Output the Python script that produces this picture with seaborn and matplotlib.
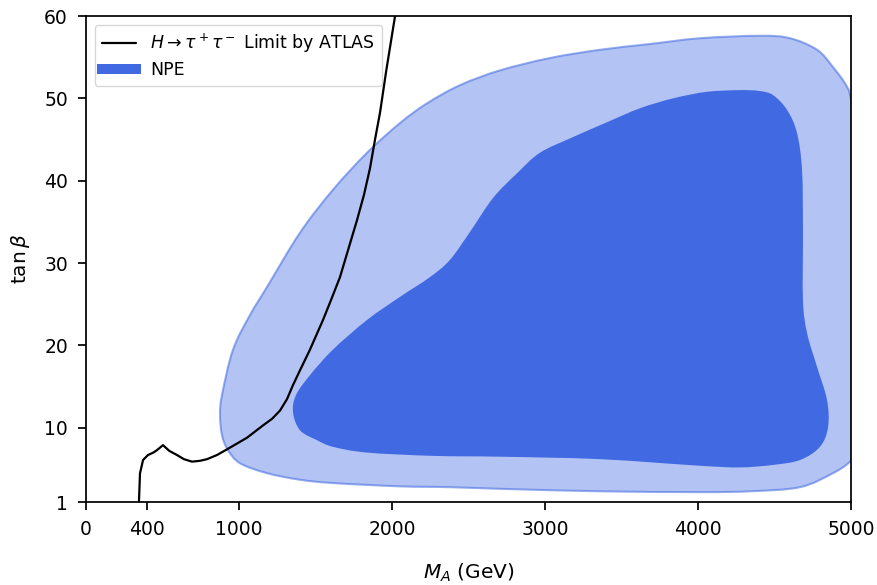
import numpy as np
import pandas as pd
import matplotlib
matplotlib.use("Agg")
import matplotlib.pyplot as plt
from matplotlib.lines import Line2D
from matplotlib.path import Path
from matplotlib.patches import PathPatch
import seaborn as sns

# ATLAS H -> tau tau exclusion limit in the (M_A, tan beta) plane
atlas_ma = [346, 350, 353, 373, 405, 440, 464, 503, 545, 595, 640, 693, 745, 791,
            856, 941, 1052, 1157, 1216, 1268, 1314, 1353, 1399, 1464, 1549, 1601,
            1660, 1771, 1817, 1856, 1889, 1922, 1961, 2000, 2026]
atlas_tb = [1.0, 3.0, 4.5, 6.1, 6.7, 7.0, 7.3, 7.9, 7.2, 6.7, 6.2, 5.9, 6.0, 6.2,
            6.7, 7.6, 8.8, 10.3, 11.1, 12.1, 13.5, 15.2, 17.0, 19.5, 23.1, 25.5,
            28.3, 35.2, 38.3, 41.5, 45.0, 48.3, 53.2, 57.7, 60.7]

# NPE posterior region, outer (95%) contour
outer_ma = [876, 889, 961, 1072, 1183, 1399, 1614, 1837, 2052, 2229, 2444, 2706,
            3033, 3360, 3686, 4013, 4405, 4601, 4778, 4882, 4974, 5007, 5124, 5124,
            5026, 4993, 4882, 4667, 4340, 4013, 3360, 2706, 2379, 2052, 1614, 1399,
            1183, 1007, 928, 889]
outer_tb = [11.6, 14.0, 19.5, 23.7, 27.1, 33.7, 38.9, 43.4, 47.0, 49.4, 51.6, 53.4,
            54.9, 55.9, 56.6, 57.3, 57.6, 57.3, 55.9, 53.8, 51.4, 49.2, 37.7, 19.5,
            7.3, 5.9, 4.5, 2.8, 2.3, 2.2, 2.3, 2.6, 2.8, 2.9, 3.3, 3.7,
            4.5, 5.7, 7.3, 9.1]

# NPE posterior region, inner (68%) contour
inner_ma = [1353, 1373, 1464, 1614, 1837, 2052, 2248, 2379, 2510, 2660, 2817, 2967,
            3183, 3405, 3621, 3837, 4059, 4275, 4400, 4490, 4582, 4647, 4680, 4686,
            4686, 4713, 4778, 4843, 4850, 4797, 4667, 4490, 4275, 4013, 3360, 2706,
            2268, 1837, 1614, 1510, 1399]
inner_tb = [11.9, 14.0, 16.4, 19.5, 23.1, 25.9, 28.3, 30.4, 33.8, 37.9, 40.9, 43.4,
            45.3, 47.1, 48.8, 50.0, 50.8, 51.0, 50.9, 50.4, 48.6, 45.8, 41.3, 34.0,
            25.5, 21.5, 17.4, 13.4, 10.1, 7.7, 6.1, 5.5, 5.2, 5.4, 6.2, 6.5,
            6.6, 7.0, 7.7, 8.5, 9.7]

x_ticks = [0, 400, 1000, 2000, 3000, 4000, 5000]
y_ticks = [1, 10, 20, 30, 40, 50, 60]


def smooth_closed_path(xs, ys):
    """Closed outline through the given vertices, drawn with cubic Bezier
    segments (Catmull-Rom tangents) so the contour edge is smooth."""
    p = np.column_stack([xs, ys]).astype(float)
    n = len(p)
    verts = [p[0]]
    codes = [Path.MOVETO]
    for i in range(n):
        p0, p1, p2, p3 = p[i - 1], p[i], p[(i + 1) % n], p[(i + 2) % n]
        c1 = p1 + (p2 - p0) / 6.0
        c2 = p2 - (p3 - p1) / 6.0
        verts += [c1, c2, p2]
        codes += [Path.CURVE4] * 3
    return Path(verts, codes, closed=False)


sns.set_theme(style="ticks")
plt.rcParams["font.family"] = ["DejaVu Sans"]
plt.rcParams["mathtext.fontset"] = "dejavusans"
plt.rcParams["text.color"] = "black"
plt.rcParams["axes.labelcolor"] = "black"

blue = (65 / 255, 105 / 255, 225 / 255)

fig = plt.figure(figsize=(8.77, 5.85), dpi=100)
ax = fig.add_axes([86 / 877, 1 - 502 / 585, 765 / 877, 486 / 585])

ax.add_patch(PathPatch(smooth_closed_path(outer_ma, outer_tb),
                       facecolor=blue + (0.4,), edgecolor=blue + (0.55,),
                       linewidth=1.5, zorder=1))
ax.add_patch(PathPatch(smooth_closed_path(inner_ma, inner_tb),
                       facecolor=blue, edgecolor="none", zorder=2))

atlas = pd.DataFrame({"M_A": atlas_ma, "tanb": atlas_tb})
sns.lineplot(data=atlas, x="M_A", y="tanb", sort=False, estimator=None,
             color="black", linewidth=1.6, ax=ax, zorder=3)

ax.set_xlim(0, 5000)
ax.set_ylim(1, 60)
ax.set_xticks(x_ticks)
ax.set_yticks(y_ticks)
ax.tick_params(axis="both", labelsize=13.5, length=6, width=1.25, pad=7,
               colors="black")
for s in ax.spines.values():
    s.set_linewidth(1.25)
    s.set_color("black")

ax.set_xlabel(r"$M_A$ (GeV)", fontsize=14.5, labelpad=16, color="black")
ax.set_ylabel(r"$\tan\beta$", fontsize=14.5, labelpad=9, color="black")

handles = [Line2D([0], [0], color="black", lw=1.6),
           Line2D([0], [0], color=blue, lw=7.2, solid_capstyle="projecting")]
labels = [r"$H \rightarrow \tau^+\tau^-$ Limit by ATLAS", "NPE"]
ax.legend(handles, labels, loc="upper left", fontsize=12.5, frameon=True,
          framealpha=0.8, edgecolor="0.8", fancybox=True, labelspacing=0.35,
          labelcolor="black")

fig.savefig("out.png", dpi=100)
